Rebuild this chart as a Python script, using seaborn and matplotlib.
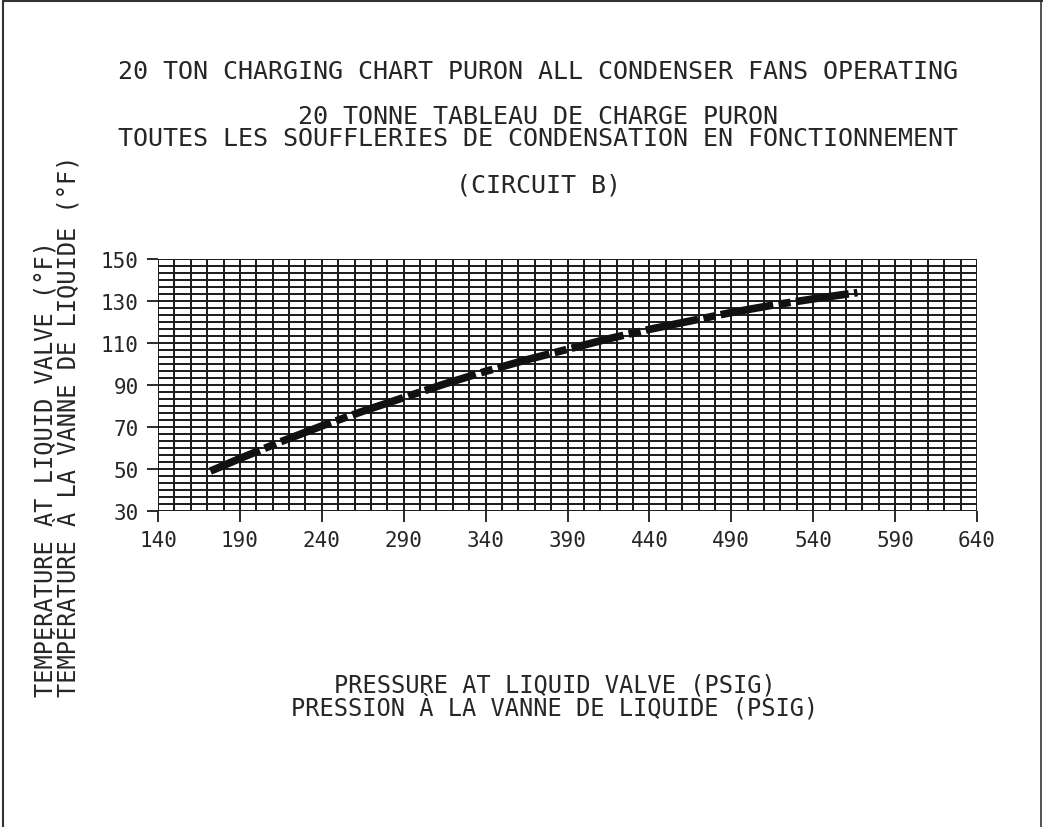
import numpy as np
import pandas as pd
import matplotlib
matplotlib.use("Agg")
import matplotlib.pyplot as plt
import seaborn as sns
from matplotlib.lines import Line2D

# values
pressure = [172, 190, 215, 240, 265, 290, 315, 340, 365, 390, 415, 440, 465, 490, 515, 540, 567]
temperature = [49, 55, 63, 70.5, 77.5, 84, 90.5, 96.5, 102, 107, 112, 116.5, 120.5, 124.5, 128, 131, 134]
x_ticks = [140, 190, 240, 290, 340, 390, 440, 490, 540, 590, 640]
y_ticks = [30, 50, 70, 90, 110, 130, 150]

title_lines = [
    "20 TON CHARGING CHART PURON ALL CONDENSER FANS OPERATING",
    "20 TONNE TABLEAU DE CHARGE PURON\nTOUTES LES SOUFFLERIES DE CONDENSATION EN FONCTIONNEMENT",
    "(CIRCUIT B)",
]
ylabel = "TEMPERATURE AT LIQUID VALVE (°F)\nTEMPÉRATURE À LA VANNE DE LIQUIDE (°F)"
xlabel = "PRESSURE AT LIQUID VALVE (PSIG)\nPRESSION À LA VANNE DE LIQUIDE (PSIG)"

df = pd.DataFrame({"pressure": pressure, "temperature": temperature})

sns.set_style("white")
plt.rcParams["font.family"] = ["DejaVu Sans Mono", "DejaVu Sans"]

W, H = 1043, 828
fig = plt.figure(figsize=(W / 100, H / 100), dpi=100)
ax = fig.add_axes([158 / W, 1 - 512 / H, 819 / W, 252 / H])

# fine grid
for gx in np.arange(140, 641, 10):
    ax.axvline(gx, color="#1a1a1a", lw=1.4, zorder=1)
for gy in np.linspace(30, 150, 37):
    ax.axhline(gy, color="#1a1a1a", lw=1.4, zorder=1)

sns.lineplot(data=df, x="pressure", y="temperature", ax=ax, color="#111111",
             linewidth=5.5, zorder=3)
ax.lines[-1].set_dashes([7, 0.7, 1.6, 0.7])
ax.lines[-1].set_dash_capstyle("butt")

ax.set_xlim(140, 640)
ax.set_ylim(30, 150)
ax.set_xticks(x_ticks)
ax.set_yticks(y_ticks)
ax.tick_params(axis="both", direction="out", length=8, width=1.3, color="#1a1a1a",
               labelsize=15, pad=6, left=True, bottom=True)
ax.set_xlabel("")
ax.set_ylabel("")
for side in ["left", "bottom", "top", "right"]:
    ax.spines[side].set_visible(False)

fig.text(538 / W, 1 - 72 / H, title_lines[0], ha="center", va="center", fontsize=18)
fig.text(538 / W, 1 - 128 / H, title_lines[1], ha="center", va="center", fontsize=18,
         linespacing=0.9)
fig.text(538 / W, 1 - 185 / H, title_lines[2], ha="center", va="center", fontsize=18)

fig.text(57 / W, 1 - 697 / H, ylabel, rotation=90, ha="center", va="bottom",
         multialignment="left", fontsize=17, linespacing=0.85)
fig.text(555 / W, 1 - 697 / H, xlabel, ha="center", va="center", fontsize=17,
         linespacing=0.85)

# drawing frame
fig.add_artist(Line2D([3 / W, 3 / W], [0, 1 - 1.5 / H], color="#333333", lw=1.5))
fig.add_artist(Line2D([3 / W, 1], [1 - 1.5 / H, 1 - 1.5 / H], color="#333333", lw=1.5))
fig.add_artist(Line2D([1041 / W, 1041 / W], [0, 1], color="#333333", lw=1.2))

fig.savefig("out.png", dpi=100)
